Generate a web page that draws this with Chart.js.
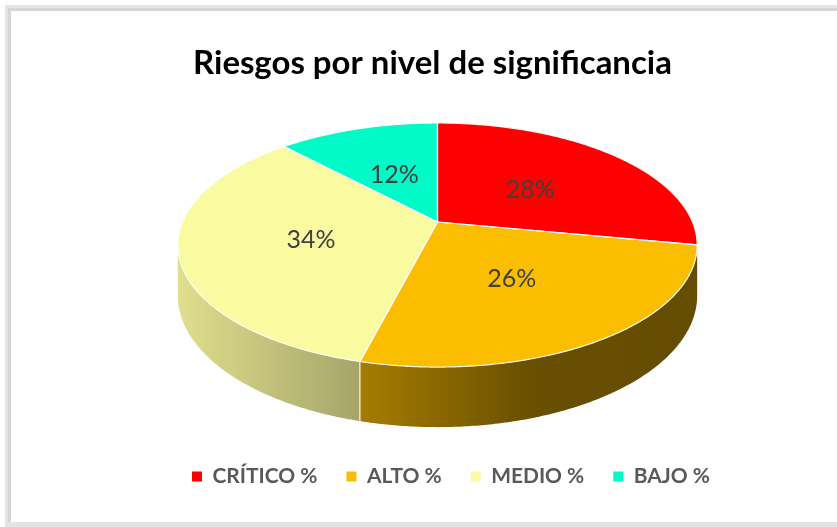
<!DOCTYPE html>
<html><head><meta charset="utf-8">
<script src="https://cdn.jsdelivr.net/npm/chart.js@4.4.1/dist/chart.umd.min.js"></script>
<style>html,body{margin:0;padding:0;background:#fff;overflow:hidden}
#wrap{position:absolute;left:0;top:0;width:837px;height:527px}</style>
</head><body><div id="wrap"><canvas id="c" width="837" height="527"></canvas></div>
<script>
const chartTitle = 'Riesgos por nivel de significancia';
const categories = ['CRÍTICO %', 'ALTO %', 'MEDIO %', 'BAJO %'];
const values = [28, 26, 34, 12];
const colors = ['#fe0000', '#fbbd00', '#fafaa0', '#00fac8'];

const FONT = 'Lato, "Open Sans", sans-serif';
function fitSize(text, weight, target) {
  const c = document.createElement('canvas').getContext('2d');
  c.font = weight + ' 100px ' + FONT;
  return 100 * target / c.measureText(text).width;
}
const titleSize = fitSize(chartTitle, 'bold', 479);
const legendSize = fitSize(categories[0], 'bold', 105);
const labelSize = fitSize('28%', 'normal', 49);

// 3D projection geometry (styling)
const G = {cx: 437.5, cy: 222, C: 255, A: 117.7, B: 0.1888, H: 48.7};
function proj(th, r, down) {
  const t = -Math.cos(th) * r, s = Math.sin(th) * r;
  const den = 1 - G.B * t;
  return {x: G.cx + G.C * s / den, y: G.cy + G.A * t / den + (down ? G.H / den : 0)};
}
function shade(hex, f) {
  const n = parseInt(hex.slice(1), 16);
  const r = (n >> 16) & 255, g = (n >> 8) & 255, b = n & 255;
  return `rgb(${Math.round(r * f)},${Math.round(g * f)},${Math.round(b * f)})`;
}

const framePlugin = {
  id: 'frame',
  beforeDraw(chart) {
    const ctx = chart.ctx;
    ctx.save();
    ctx.fillStyle = '#fff';
    ctx.fillRect(0, 0, chart.width, chart.height);
    ctx.fillStyle = '#e4e4e4';
    ctx.fillRect(5, 5, chart.width, 6);
    ctx.fillRect(5, 5, 6, chart.height);
    ctx.fillRect(5, 522, chart.width, 5);
    ctx.fillStyle = '#d6d6d6';
    ctx.fillRect(8, 8, chart.width, 3);
    ctx.fillRect(8, 8, 3, 514);
    ctx.restore();
  }
};

const pie3d = {
  id: 'pie3d',
  afterLayout(chart) {
    const lg = chart.legend;
    const pad = lg.options.labels.padding;
    const itemH = legendSize;
    const dy = 476.5 - (lg.top + pad + itemH / 2);
    lg.top += dy; lg.bottom += dy;
    const dx = 451 - (lg.left + lg.right) / 2;
    lg.left += dx; lg.right += dx;
  },
  beforeDatasetsDraw(chart) {
    const ctx = chart.ctx;
    const meta = chart.getDatasetMeta(0);
    const ds = chart.data.datasets[0];
    const thR = Math.acos(-G.B), thL = 2 * Math.PI - thR;
    const xL = proj(thL, 1).x, xR = proj(thR, 1).x;
    const step = Math.PI / 360;
    const slices = meta.data.map((arc, i) => ({
      s: arc.startAngle + Math.PI / 2,
      e: arc.endAngle + Math.PI / 2,
      color: ds.backgroundColor[i],
      value: ds.data[i]
    }));
    ctx.save();
    // sides
    slices.forEach(sl => {
      const a = Math.max(sl.s, thR), b = Math.min(sl.e, thL);
      if (b <= a) return;
      const grad = ctx.createLinearGradient(xL, 0, xR, 0);
      [[0, 0.89], [0.35, 0.66], [0.68, 0.42], [1, 0.40]].forEach(([p, f]) => grad.addColorStop(p, shade(sl.color, f)));
      ctx.beginPath();
      for (let th = a; th < b; th += step) { const p = proj(th, 1); ctx.lineTo(p.x, p.y); }
      let p = proj(b, 1); ctx.lineTo(p.x, p.y);
      p = proj(b, 1, true); ctx.lineTo(p.x, p.y);
      for (let th = b; th > a; th -= step) { const q = proj(th, 1, true); ctx.lineTo(q.x, q.y); }
      p = proj(a, 1, true); ctx.lineTo(p.x, p.y);
      ctx.closePath();
      ctx.fillStyle = grad;
      ctx.fill();
    });
    // side separators
    ctx.strokeStyle = 'rgba(255,255,255,0.9)';
    ctx.lineWidth = 1.2;
    slices.forEach(sl => {
      if (sl.s > thR && sl.s < thL) {
        const p1 = proj(sl.s, 1), p2 = proj(sl.s, 1, true);
        ctx.beginPath(); ctx.moveTo(p1.x, p1.y); ctx.lineTo(p2.x, p2.y); ctx.stroke();
      }
    });
    // top faces
    slices.forEach(sl => {
      ctx.beginPath();
      const c = proj(0, 0);
      ctx.moveTo(c.x, c.y);
      for (let th = sl.s; th < sl.e; th += step) { const p = proj(th, 1); ctx.lineTo(p.x, p.y); }
      const p = proj(sl.e, 1); ctx.lineTo(p.x, p.y);
      ctx.closePath();
      ctx.fillStyle = sl.color;
      ctx.fill();
    });
    slices.forEach(sl => {
      ctx.beginPath();
      const c = proj(0, 0);
      ctx.moveTo(c.x, c.y);
      for (let th = sl.s; th < sl.e; th += step) { const p = proj(th, 1); ctx.lineTo(p.x, p.y); }
      const p = proj(sl.e, 1); ctx.lineTo(p.x, p.y);
      ctx.closePath();
      ctx.stroke();
    });
    // labels
    const total = ds.data.reduce((a, b) => a + b, 0);
    ctx.fillStyle = '#404040';
    ctx.font = `${labelSize}px ${FONT}`;
    ctx.textAlign = 'center';
    ctx.textBaseline = 'middle';
    slices.forEach(sl => {
      const p = proj((sl.s + sl.e) / 2, 0.5);
      ctx.fillText(Math.round(sl.value / total * 100) + '%', p.x, p.y + 3);
    });
    ctx.restore();
    return false;
  }
};

new Chart(document.getElementById('c'), {
  type: 'pie',
  data: {
    labels: categories,
    datasets: [{data: values, backgroundColor: colors, borderWidth: 0}]
  },
  options: {
    responsive: false,
    animation: false,
    layout: {padding: {left: 28, top: 0, bottom: 20}},
    plugins: {
      tooltip: {enabled: false},
      title: {
        display: true,
        text: chartTitle,
        color: '#000',
        font: {family: FONT, size: titleSize, weight: 'bold'},
        padding: {top: 63 - titleSize * 0.6, bottom: 20}
      },
      legend: {
        position: 'bottom',
        labels: {
          boxWidth: 10, boxHeight: 10,
          color: '#595959',
          padding: 29,
          font: {family: FONT, size: legendSize, weight: 'bold'}
        }
      }
    }
  },
  plugins: [framePlugin, pie3d]
});
</script>
</body></html>
